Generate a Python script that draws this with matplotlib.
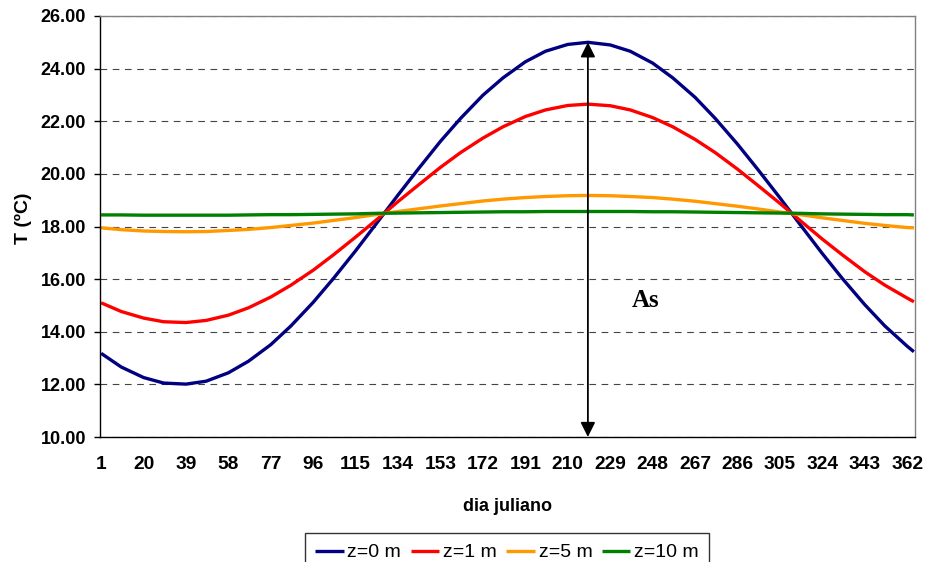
import matplotlib
matplotlib.use("Agg")
import matplotlib.pyplot as plt

plt.rcParams['font.family'] = ['Liberation Sans', 'DejaVu Sans']

# dia juliano
dias = [1, 10, 20, 29, 39, 48, 58, 67, 77, 86, 96, 105, 115, 124, 134, 143,
        153, 162, 172, 181, 191, 200, 210, 219, 229, 238, 248, 257, 267, 276,
        286, 295, 305, 314, 324, 333, 343, 352, 362, 365]

# temperatura (ºC) a diferentes profundidades
t_z0 = [13.18, 12.66, 12.26, 12.05, 12.01, 12.12, 12.44, 12.88, 13.51, 14.22,
        15.12, 16.02, 17.08, 18.08, 19.20, 20.18, 21.24, 22.11, 22.99, 23.65,
        24.26, 24.66, 24.92, 25.00, 24.90, 24.66, 24.21, 23.65, 22.91, 22.11,
        21.13, 20.18, 19.09, 18.08, 16.97, 16.02, 15.03, 14.22, 13.45, 13.24]
t_z1 = [15.10, 14.77, 14.52, 14.38, 14.35, 14.43, 14.63, 14.91, 15.32, 15.77,
        16.34, 16.92, 17.60, 18.23, 18.95, 19.57, 20.25, 20.81, 21.36, 21.79,
        22.18, 22.43, 22.60, 22.65, 22.59, 22.43, 22.14, 21.79, 21.31, 20.81,
        20.18, 19.57, 18.88, 18.23, 17.52, 16.92, 16.28, 15.77, 15.28, 15.14]
t_z5 = [17.95, 17.88, 17.83, 17.81, 17.80, 17.81, 17.85, 17.89, 17.96, 18.04,
        18.13, 18.23, 18.34, 18.45, 18.57, 18.67, 18.78, 18.87, 18.97, 19.04,
        19.10, 19.14, 19.17, 19.18, 19.17, 19.14, 19.10, 19.04, 18.96, 18.87,
        18.77, 18.67, 18.55, 18.45, 18.33, 18.23, 18.12, 18.04, 17.96, 17.95]
t_z10 = [18.44, 18.44, 18.43, 18.43, 18.43, 18.43, 18.43, 18.44, 18.45, 18.45,
         18.46, 18.47, 18.48, 18.50, 18.51, 18.52, 18.53, 18.54, 18.55, 18.56,
         18.56, 18.57, 18.57, 18.57, 18.57, 18.57, 18.56, 18.56, 18.55, 18.54,
         18.53, 18.52, 18.51, 18.50, 18.48, 18.47, 18.46, 18.45, 18.45, 18.44]

series = [('z=0 m', t_z0, '#000080'),
          ('z=1 m', t_z1, '#ff0000'),
          ('z=5 m', t_z5, '#ff9900'),
          ('z=10 m', t_z10, '#008000')]

x_ticks = list(range(1, 363, 19))
y_ticks = [10, 12, 14, 16, 18, 20, 22, 24, 26]

# amplitude anual à superfície
dia_max = 219
t_min_eixo = 10.0
t_max_z0 = 25.0

fig = plt.figure(figsize=(9.27, 5.62), dpi=100)
ax = fig.add_axes([100 / 927, 1 - 437 / 562, 815 / 927, 421 / 562])

for nome, t, cor in series:
    ax.plot(dias, t, color=cor, lw=2.4, label=nome, solid_capstyle='butt')

ax.set_xlim(0.5, 365.5)
ax.set_ylim(10, 26)

ax.set_yticks(y_ticks)
ax.set_yticklabels([f"{v:.2f}" for v in y_ticks], fontweight='bold', fontsize=13)
ax.set_xticks(x_ticks)
ax.set_xticklabels([str(v) for v in x_ticks], fontweight='bold', fontsize=13.8)
ax.tick_params(axis='x', length=0, pad=14)
ax.tick_params(axis='y', length=4, width=1, pad=6)

ax.grid(axis='y', color='#444444', linestyle=(0, (6, 5)), linewidth=0.8)
ax.set_axisbelow(True)

for lado in ['left', 'bottom']:
    ax.spines[lado].set_color('black')
    ax.spines[lado].set_linewidth(1.0)
for lado in ['top', 'right']:
    ax.spines[lado].set_color('#808080')
    ax.spines[lado].set_linewidth(1.0)

ax.set_ylabel('T (ºC)', fontweight='bold', fontsize=14)
ax.yaxis.set_label_coords(-0.084, 0.52)
ax.set_xlabel('dia juliano', fontweight='bold', fontsize=13)
ax.xaxis.set_label_coords(0.5, -0.145)

# seta da amplitude
ax.annotate('', xy=(dia_max, t_max_z0), xytext=(dia_max, t_min_eixo),
            arrowprops=dict(arrowstyle='<|-|>', color='black', lw=1.3,
                            mutation_scale=22, shrinkA=0, shrinkB=0),
            zorder=5)
ax.text(245, 15.2, 'As', fontsize=18, fontweight='bold',
        family=['Liberation Serif', 'DejaVu Serif'], ha='center', va='center')

leg = fig.legend(loc='upper center', bbox_to_anchor=(507 / 927, 1 - 533 / 562),
                 ncol=4, frameon=True, fancybox=False, edgecolor='black',
                 fontsize=14, handlelength=1.45, handletextpad=0.2,
                 columnspacing=0.5, borderpad=0.55, borderaxespad=0)
leg.get_frame().set_linewidth(1.0)

fig.savefig('out.png', dpi=100)
